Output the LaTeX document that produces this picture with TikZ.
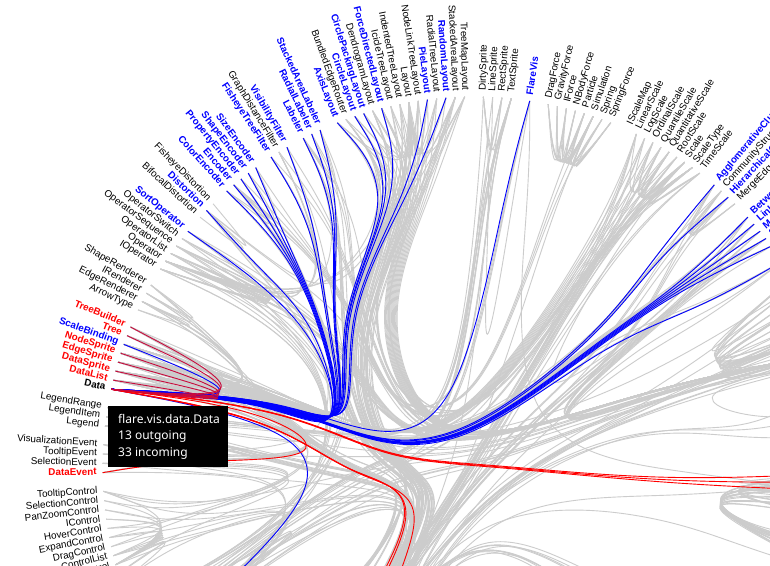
\documentclass[tikz,border=0pt]{standalone}
\usepackage{fontspec}
\newfontfamily\lblfont{Liberation Sans}
\newfontfamily\tipfont{Noto Sans}
\definecolor{cnone}{RGB}{204,204,204}
\definecolor{cin}{RGB}{0,0,255}
\definecolor{cout}{RGB}{255,0,0}
\definecolor{cboth}{RGB}{200,10,60}
% package positions: angle unit (1.44 deg) / radius
\def\PR{0/0}
\def\Pdi{2.5/282.75}\def\Pfx{6/282.75}\def\Pph{11.5/282.75}\def\Psc{21.5/282.75}
\def\Pan{34.5/188.5}\def\Pcl{29.5/282.75}\def\Pgr{35/282.75}\def\Poz{39/282.75}
\def\Pam{46.92/188.5}\def\Pip{57/282.75}\def\Pda{66.43/188.5}\def\Pcv{72/282.75}
\def\Pqu{90.57/188.5}\def\Pme{120.5/282.75}
\def\Put{147.68/188.5}\def\Php{155.5/282.75}\def\Pma{159/282.75}\def\Ppa{163.5/282.75}
\def\Pvi{188.51/94.25}\def\Pax{171/282.75}\def\Pct{180/282.75}\def\Pev{188.5/282.75}
\def\Plg{193/282.75}\def\Pvd{200.28/188.5}\def\Prd{206.5/282.75}\def\Por{219.82/188.5}
\def\Pds{218/282.75}\def\Pen{223/282.75}\def\Pfi{228/282.75}\def\Plb{232/282.75}\def\Ply{242/282.75}
\newcount\bi \newcount\bn \newcount\bj \newcount\bk
\def\PX#1{\csname px\number#1\endcsname}
\def\PY#1{\csname py\number#1\endcsname}
\def\QX#1{\csname qx\number#1\endcsname}
\def\QY#1{\csname qy\number#1\endcsname}
\def\strloop{%
  \ifnum\bi>\bn\else
    \edef\expr{0.85*(\PX{\bi})+0.15*((\PX{0})+((\PX{\bn})-(\PX{0}))*\the\bi/\the\bn)}%
    \pgfmathsetmacro\tmpx{\expr}%
    \edef\expr{0.85*(\PY{\bi})+0.15*((\PY{0})+((\PY{\bn})-(\PY{0}))*\the\bi/\the\bn)}%
    \pgfmathsetmacro\tmpy{\expr}%
    \expandafter\xdef\csname qx\the\bi\endcsname{\tmpx}%
    \expandafter\xdef\csname qy\the\bi\endcsname{\tmpy}%
    \advance\bi by 1\relax
    \expandafter\strloop
  \fi}
\def\seg#1#2#3{%
  \edef\sA{\QX{#1}}\edef\sB{\QX{#2}}\edef\sC{\QX{#3}}%
  \edef\tA{\QY{#1}}\edef\tB{\QY{#2}}\edef\tC{\QY{#3}}%
  \pgfmathsetmacro\cax{(2*(\sA)+(\sB))/3}%
  \pgfmathsetmacro\cay{(2*(\tA)+(\tB))/3}%
  \pgfmathsetmacro\cbx{((\sA)+2*(\sB))/3}%
  \pgfmathsetmacro\cby{((\tA)+2*(\tB))/3}%
  \pgfmathsetmacro\cex{((\sA)+4*(\sB)+(\sC))/6}%
  \pgfmathsetmacro\cey{((\tA)+4*(\tB)+(\tC))/6}%
  \xdef\bpath{\bpath .. controls (\cax,\cay) and (\cbx,\cby) .. (\cex,\cey)}}
\def\segloop{%
  \ifnum\bi>\bn\else
    \bj=\bi \advance\bj by -2\relax
    \bk=\bi \advance\bk by -1\relax
    \seg{\bj}{\bk}{\bi}%
    \advance\bi by 1\relax
    \expandafter\segloop
  \fi}
\def\bund#1{%
  \global\bn=0\relax
  \foreach \ang/\rad in \rl {%
    \pgfmathsetmacro\tmpx{\rad*sin(\ang*1.44)}%
    \pgfmathsetmacro\tmpy{\rad*cos(\ang*1.44)}%
    \expandafter\xdef\csname px\the\bn\endcsname{\tmpx}%
    \expandafter\xdef\csname py\the\bn\endcsname{\tmpy}%
    \global\advance\bn by 1\relax}%
  \global\advance\bn by -1\relax
  \bi=0\relax \strloop
  \edef\sA{\QX{0}}\edef\sB{\QX{1}}\edef\tA{\QY{0}}\edef\tB{\QY{1}}%
  \pgfmathsetmacro\cex{(5*(\sA)+(\sB))/6}%
  \pgfmathsetmacro\cey{(5*(\tA)+(\tB))/6}%
  \xdef\bpath{(\sA,\tA) -- (\cex,\cey)}%
  \bi=2\relax \segloop
  \bj=\bn \advance\bj by -1\relax
  \seg{\bj}{\bn}{\bn}%
  \xdef\bpath{\bpath -- (\QX{\bn},\QY{\bn})}%
  \edef\tmp{\noexpand\draw[#1] \bpath;}\tmp}
\def\EE#1#2#3#4{\xdef\rl{#2/377}\foreach \pk in {#3}{\xdef\rl{\rl,\csname P\pk\endcsname}}\xdef\rl{\rl,#4/377}\bund{#1}}
\def\EG{\EE{lknone}}\def\EB{\EE{lkin}}\def\ER{\EE{lkout}}\def\EM{\EE{lkboth}}
\def\lab#1#2#3{%
  \pgfmathsetmacro\th{#2*1.44}%
  \ifnum#2<125
    \node[lbl,#1,anchor=mid west,rotate=90-\th] (n#2) at ({383*sin(\th)},{383*cos(\th)}) {#3};
  \else
    \node[lbl,#1,anchor=mid east,rotate=270-\th] (n#2) at ({383*sin(\th)},{383*cos(\th)}) {#3};
  \fi}
\begin{document}
\begin{tikzpicture}[x=0.985pt,y=0.985pt,
  lknone/.style={draw=cnone,line width=0.9pt},
  lkin/.style={draw=cin,line width=0.9pt},
  lkout/.style={draw=cout,line width=0.9pt},
  lkboth/.style={draw=cboth,line width=0.9pt},
  lbl/.style={inner sep=0pt,text=black,font=\lblfont\fontsize{9.85}{11}\selectfont},
  lin/.style={text=cin,font=\lblfont\bfseries\fontsize{9.85}{11}\selectfont},
  lout/.style={text=cout,font=\lblfont\bfseries\fontsize{9.85}{11}\selectfont},
  lself/.style={text=black,font=\lblfont\bfseries\fontsize{9.85}{11}\selectfont}]
\useasboundingbox[fill=white] (-474pt,468pt) rectangle (296pt,-97pt);
% physics
\EG{8}{ph}{13}\EG{8}{ph}{12}\EG{8}{ph}{10}\EG{9}{ph}{13}\EG{9}{ph}{12}\EG{9}{ph}{10}
\EG{10}{ph}{13}\EG{11}{ph}{13}\EG{11}{ph}{12}\EG{11}{ph}{10}
\EG{13}{ph,R,ut}{138}\EG{13}{ph}{8}\EG{13}{ph}{9}\EG{13}{ph}{11}\EG{13}{ph}{12}\EG{13}{ph}{14}\EG{13}{ph}{15}
\EG{14}{ph}{12}\EG{15}{ph}{13}\EG{15}{ph}{12}\EG{15}{ph}{14}\EG{15}{ph}{10}
% display, flex
\EG{2}{di}{1}\EG{3}{di}{1}\EG{3}{di,R,ut}{139}\EG{4}{di}{1}
\EG{6}{fx,R,di}{1}\EG{6}{fx,R,da}{65}\EG{6}{fx,R,vi}{167}\EG{6}{fx,R,vi,ax}{173}\EG{6}{fx,R,vi,ax}{169}
% scale
\EG{18}{sc}{22}\EG{18}{sc,R,ut}{147}\EG{18}{sc,R,ut}{153}
\EG{19}{sc}{22}\EG{19}{sc,R,ut}{147}\EG{19}{sc,R,ut}{153}
\EG{20}{sc}{25}\EG{20}{sc}{24}\EG{20}{sc,R,ut}{138}\EG{20}{sc,R,ut}{149}
\EG{21}{sc,R,ut}{147}\EG{21}{sc,R,ut}{153}\EG{21}{sc}{24}\EG{21}{sc}{25}
\EG{22}{sc,R,ut}{147}\EG{22}{sc,R,ut}{153}\EG{22}{sc}{24}\EG{22}{sc}{25}
\EG{23}{sc}{22}\EG{23}{sc,R,ut}{147}\EG{23}{sc,R,ut}{153}
\EG{24}{sc}{25}\EG{24}{sc,R,ut}{153}
\EG{26}{sc}{24}\EG{26}{sc}{25}\EG{26}{sc,R,ut}{140}\EG{26}{sc,R,ut}{147}
% analytics
\EG{28}{cl,an,R,am}{50}\EG{28}{cl,an,R,vi,vd}{197}\EG{28}{cl,an,R,ut,ma}{159}\EG{28}{cl}{31}\EG{28}{cl}{30}
\EG{29}{cl}{30}\EG{29}{cl,an,R,am}{50}\EG{29}{cl,an,R,vi,vd}{197}\EG{29}{cl}{31}\EG{29}{cl,an,R,ut,ma}{159}
\EG{30}{cl,an,R,vi,vd}{199}\EG{30}{cl,an,R,vi,vd}{200}\EG{30}{cl,an,R,vi,vd}{197}\EG{30}{cl,an,R,vi,vd}{202}
\EG{30}{cl}{31}\EG{30}{cl,an,R,am}{50}\EG{30}{cl,an,R,vi,or}{211}\EG{30}{cl,an,R,ut}{149}
\EG{33}{gr,an,R,am}{50}\EG{33}{gr,an,R,vi,vd}{200}\EG{33}{gr,an,R,vi,vd}{197}\EG{33}{gr,an,R,ut,hp}{155}\EG{33}{gr,an,R,ut,hp}{156}\EG{33}{gr,an,R,vi,or}{211}
\EG{34}{gr,an,R,am}{50}\EG{34}{gr,an,R,vi,vd}{200}\EG{34}{gr,an,R,vi,vd}{199}\EG{34}{gr}{36}\EG{34}{gr,an,R,vi,or}{211}\EG{34}{gr,an,R,ut}{149}
\EG{35}{gr,an,R,am}{50}\EG{35}{gr,an,R,vi,vd}{199}\EG{35}{gr,an,R,vi,vd}{200}\EG{35}{gr,an,R,vi,or}{211}\EG{35}{gr,an,R,ut}{149}
\EG{36}{gr,an,R,vi,vd}{199}\EG{36}{gr,an,R,vi,vd}{200}\EG{36}{gr,an,R,am}{50}\EG{36}{gr,an,R,vi,or}{211}\EG{36}{gr,an,R,ut,hp}{156}\EG{36}{gr,an,R,ut,hp}{155}\EG{36}{gr,an,R,ut}{149}
\EG{37}{gr,an,R,am}{50}\EG{37}{gr,an,R,vi,vd}{200}\EG{37}{gr,an,R,vi,or}{211}\EG{37}{gr,an,R,vi,vd}{203}
\EG{39}{oz,an,R,am}{50}\EG{39}{oz,an,R,ut}{138}\EG{39}{oz,an,R,vi,vd}{198}\EG{39}{oz,an,R,sc}{24}\EG{39}{oz,an,R,vi,or}{211}
% animate
\EG{42}{am,R,ut}{147}\EG{42}{am}{48}\EG{42}{am}{47}\EG{43}{am}{46}
\EG{44}{am}{41}\EG{44}{am}{48}\EG{44}{am,R,ut}{138}\EG{45}{am}{48}
\EG{47}{am}{41}\EG{47}{am,R,ut}{147}\EG{47}{am}{48}\EG{47}{am,R,ut}{138}
\EG{48}{am}{50}\EG{48}{am}{49}\EG{48}{am}{46}\EG{48}{am}{45}\EG{48}{am}{44}\EG{48}{am}{41}\EG{48}{am}{47}\EG{48}{am}{43}\EG{48}{am,R,ut}{147}\EG{48}{am}{51}
\EG{50}{am,R,ut}{146}\EG{50}{am}{44}\EG{50}{am}{41}\EG{50}{am}{47}\EG{50}{am}{51}\EG{50}{am,R,ut}{149}
\EG{51}{am,ip}{56}\EG{51}{am,R,ut}{149}
\EG{53}{ip,am,R,ut}{138}
\EG{56}{ip}{53}\EG{56}{ip}{54}\EG{56}{ip}{55}\EG{56}{ip}{57}\EG{56}{ip}{58}\EG{56}{ip}{59}\EG{56}{ip}{60}\EG{56}{ip}{61}\EG{56}{ip,am,R,ut}{149}\EG{59}{ip,am,R,ut}{149}
% data
\EG{63}{da}{68}\EG{64}{da}{63}\EG{64}{da,R,ut}{138}\EG{64}{da}{68}\EG{65}{da}{67}\EG{65}{da}{64}
\EG{66}{da,cv}{73}\EG{66}{da,cv}{70}\EG{66}{da}{65}\EG{67}{da}{64}\EG{68}{da}{63}
\EG{70}{cv}{73}\EG{70}{cv}{72}\EG{70}{cv}{74}\EG{70}{cv}{71}
\EG{71}{cv,da}{65}\EG{71}{cv,da}{68}\EG{71}{cv,da}{67}\EG{71}{cv,da}{64}\EG{71}{cv}{73}
\EG{72}{cv,da}{64}\EG{72}{cv,da}{65}\EG{72}{cv,da}{67}\EG{72}{cv,da}{63}\EG{72}{cv,da}{68}\EG{72}{cv}{73}
\EG{73}{cv,da}{65}\EG{73}{cv,da}{64}
\EG{74}{cv,da,R,ut}{149}\EG{74}{cv,da}{65}\EG{74}{cv,da}{63}\EG{74}{cv,da}{64}\EG{74}{cv,da}{67}\EG{74}{cv}{73}
% query
\EG{76}{qu}{86}\EG{77}{qu}{82}\EG{78}{qu}{80}\EG{79}{qu}{76}\EG{80}{qu}{86}\EG{81}{qu}{80}
\EG{82}{qu}{86}\EG{83}{qu}{76}\EG{84}{qu}{88}\EG{85}{qu}{76}\EG{86}{qu}{101}\EG{86}{qu}{91}
\EG{87}{qu}{86}\EG{88}{qu}{82}\EG{89}{qu}{80}\EG{90}{qu}{86}\EG{91}{qu}{86}\EG{92}{qu}{80}
\EG{93}{qu}{76}\EG{94}{qu}{76}\EG{95}{qu}{86}\EG{96}{qu}{82}\EG{97}{qu}{86}\EG{97}{qu}{101}
\EG{98}{qu}{77}\EG{99}{qu}{88}\EG{100}{qu}{76}\EG{101}{qu}{86}\EG{102}{qu}{76}\EG{103}{qu}{82}
\EG{81}{qu,R,ut}{149}\EG{84}{qu,R,ut}{140}\EG{86}{qu,R,ut}{149}\EG{87}{qu,R,ut}{149}
\EG{97}{qu,R,ut}{142}\EG{97}{qu,R,ut}{151}\EG{97}{qu,R,ut}{149}\EG{99}{qu,R,ut}{153}\EG{102}{qu,R,ut}{152}
\EG{105}{me,qu}{91}\EG{106}{me,qu}{78}\EG{107}{me,qu}{77}\EG{108}{me,qu}{79}\EG{109}{me,qu}{83}
\EG{110}{me,qu}{85}\EG{111}{me,qu}{78}\EG{112}{me,qu}{81}\EG{113}{me,qu}{88}\EG{114}{me,qu}{81}
\EG{116}{me,qu}{89}\EG{117}{me,qu}{90}\EG{118}{me,qu}{81}\EG{120}{me,qu}{93}\EG{121}{me,qu}{94}
\EG{122}{me,qu}{78}\EG{125}{me,qu}{95}\EG{126}{me,qu}{96}\EG{127}{me,qu}{97}\EG{128}{me,qu}{98}
\EG{129}{me,qu}{97}\EG{130}{me,qu}{102}\EG{132}{me,qu}{100}\EG{134}{me,qu}{102}\EG{136}{me,qu}{103}
% util
\EG{140}{ut}{147}\EG{141}{ut}{144}\EG{141}{ut}{149}\EG{141}{ut}{142}\EG{142}{ut}{145}\EG{149}{ut}{146}
\EG{151}{ut}{149}\EG{151}{ut}{138}\EG{152}{ut}{138}\EG{153}{ut}{140}\EG{155}{hp}{156}\EG{158}{ma}{159}
\EG{160}{ma}{159}\EG{162}{pa}{163}\EG{162}{pa,ut}{139}\EG{164}{pa}{163}\EG{164}{pa,ut}{150}\EG{165}{pa}{163}
% vis
\EG{167}{vi,R,am}{50}\EG{167}{vi,vd}{198}\EG{167}{vi,or}{210}\EG{167}{vi,ax}{169}\EG{167}{vi,ax}{173}
\EG{167}{vi,ev}{187}\EG{167}{vi,ev}{190}\EG{167}{vi,or}{212}\EG{167}{vi,ct}{178}\EG{167}{vi,R,ut}{141}\EG{167}{vi,R,ut}{149}
\EG{169}{ax,vi,R,am}{50}\EG{169}{ax,vi}{167}
\EG{170}{ax,vi,R,am}{50}\EG{170}{ax,vi,R,sc}{24}\EG{170}{ax,vi,R,sc}{25}\EG{170}{ax,vi,R,sc}{18}\EG{170}{ax,vi,R,ut}{138}
\EG{170}{ax,vi,R,ut}{152}\EG{170}{ax,vi,R,ut}{153}\EG{170}{ax}{171}\EG{170}{ax}{172}\EG{170}{ax,vi,R,di}{4}
\EG{171}{ax,vi,R,di}{2}\EG{172}{ax,vi,R,di}{4}
\EG{173}{ax,vi,R,am}{50}\EG{173}{ax,vi,R,di}{3}\EG{173}{ax}{170}\EG{173}{ax,vi,R,di}{4}\EG{173}{ax}{169}\EG{173}{ax}{171}\EG{173}{ax}{172}
% controls
\EG{175}{ct}{177}\EG{175}{ct,vi}{167}\EG{176}{ct,vi,ev}{188}\EG{176}{ct}{177}
\EG{177}{ct}{182}\EG{177}{ct,vi,R,ut}{142}
\EG{178}{ct}{182}\EG{178}{ct,vi,R,ut}{138}\EG{178}{ct}{177}
\EG{179}{ct}{177}\EG{179}{ct,vi,vd}{198}
\EG{180}{ct,vi,vd}{200}\EG{180}{ct}{177}\EG{180}{ct,vi}{167}
\EG{181}{ct,vi,ev}{188}\EG{181}{ct}{177}
\EG{183}{ct,vi,R,ut}{141}\EG{183}{ct}{177}
\EG{184}{ct,vi,ev}{188}\EG{184}{ct}{177}
\EG{185}{ct,vi,ev}{189}\EG{185}{ct,vi,R,am}{51}\EG{185}{ct}{177}\EG{185}{ct,vi,R,ut}{141}
% events
\EG{187}{ev,vi,vd}{199}\EG{187}{ev,vi,vd}{200}\EG{187}{ev,vi,vd}{197}\EG{187}{ev,vi,vd}{198}
\EG{188}{ev,vi,R,ut}{141}\EG{189}{ev,vi,vd}{199}\EG{189}{ev,vi,vd}{200}\EG{190}{ev,vi,R,am}{50}
% legend
\EG{192}{lg,vi,R,am}{50}\EG{192}{lg,vi,R,sc}{25}\EG{192}{lg,vi,vd}{201}\EG{192}{lg,vi,R,di}{4}\EG{192}{lg}{193}\EG{192}{lg}{194}
\EG{192}{lg,vi,R,ut}{141}\EG{192}{lg,vi,R,ut}{148}\EG{192}{lg,vi,R,ut,pa}{162}\EG{192}{lg,vi,R,ut,pa}{163}
\EG{192}{lg,vi,R,ut,pa}{164}\EG{192}{lg,vi,R,ut,pa}{165}\EG{192}{lg,vi,R,ut}{150}
\EG{193}{lg,vi,R,ut}{141}\EG{193}{lg,vi,R,di}{3}\EG{193}{lg,vi,R,di}{4}
\EG{194}{lg,vi,R,ut}{139}\EG{194}{lg,vi,R,ut,pa}{162}\EG{194}{lg,vi,R,di}{3}\EG{194}{lg,vi,R,di}{4}
\EG{194}{lg,vi,R,sc}{25}\EG{194}{lg,vi,R,ut}{148}\EG{194}{lg,vi,R,ut}{152}
% vis.data
\EG{197}{vd,vi,R,am}{50}\EG{197}{vd,vi,R,ut}{149}\EG{197}{vd,vi,R,ut}{151}\EG{197}{vd,vi,R,ut}{142}\EG{197}{vd,vi,ev}{187}
\EG{197}{vd}{198}\EG{197}{vd,vi,R,ut}{152}\EG{197}{vd,vi,R,ut}{138}\EG{197}{vd}{200}\EG{197}{vd}{199}
\EG{198}{vd,vi,R,di}{1}\EG{198}{vd,rd}{207}\EG{198}{vd,rd}{208}\EG{198}{vd,vi,R,ut}{142}
\EG{199}{vd,rd}{206}\EG{199}{vd}{198}\EG{199}{vd}{200}\EG{199}{vd,rd}{205}\EG{199}{vd,vi,R,ut}{138}
\EG{200}{vd,vi,R,am}{50}\EG{200}{vd,vi,R,ut}{138}\EG{200}{vd}{198}\EG{200}{vd}{202}\EG{200}{vd,vi,R,ut}{151}\EG{200}{vd,vi,R,ut}{142}\EG{200}{vd,vi,R,ut}{144}
\EG{201}{vd,vi,R,sc}{24}\EG{201}{vd,vi,R,sc}{25}\EG{201}{vd,vi,R,sc}{18}\EG{201}{vd,vi,R,sc}{19}\EG{201}{vd,vi,R,sc}{20}
\EG{201}{vd,vi,R,sc}{23}\EG{201}{vd,vi,R,sc}{21}\EG{201}{vd,vi,R,sc}{26}\EG{201}{vd,vi,R,sc}{22}\EG{201}{vd,vi,R,ut}{152}
\EG{202}{vd}{199}\EG{202}{vd,vi,R,ut}{138}
\EG{203}{vd}{202}\EG{203}{vd,vi,R,ut,hp}{155}\EG{203}{vd,vi,R,ut,hp}{156}\EG{203}{vd}{199}\EG{203}{vd}{200}\EG{203}{vd,vi,R,ut}{149}
% render
\EG{206}{rd,vd}{199}\EG{206}{rd,vd}{200}\EG{206}{rd}{205}\EG{206}{rd,vd,vi,R,ut}{143}\EG{206}{rd,vd,vi,R,ut}{150}\EG{206}{rd,vd}{198}\EG{206}{rd}{207}
\EG{207}{rd,vd}{198}\EG{208}{rd,vd,vi,R,ut}{150}\EG{208}{rd,vd}{198}\EG{208}{rd}{207}
% operator
\EG{210}{or,vi}{167}\EG{210}{or,vi,R,am}{50}
\EG{211}{or}{210}\EG{211}{or,vi,R,am}{50}\EG{211}{or,vi,R,ut}{149}\EG{211}{or,vi}{167}
\EG{212}{or,vi,R,ut}{138}\EG{212}{or}{210}\EG{212}{or}{211}\EG{212}{or,vi,R,am}{50}
\EG{213}{or}{210}\EG{213}{or}{212}\EG{213}{or}{211}\EG{213}{or,vi,R,am}{42}\EG{213}{or,vi,R,am}{50}\EG{213}{or,vi,R,ut}{138}\EG{213}{or,vi}{167}
\EG{214}{or}{210}\EG{214}{or}{212}\EG{214}{or,vi,R,am}{50}\EG{214}{or,vi}{167}
\EG{215}{or,vi,R,ut}{138}\EG{215}{or,vi,R,am}{50}\EG{215}{or}{211}\EG{215}{or,vi,R,ut}{151}
% distortion
\EG{217}{ds}{218}\EG{219}{ds}{218}
\EG{218}{ds,or,vi,R,am}{50}\EG{218}{ds,or,vi,vd}{198}\EG{218}{ds,or,vi,ev}{190}\EG{218}{ds,or,vi,ax}{170}\EG{218}{ds,or,ly}{243}\EG{218}{ds,or,vi,ax}{173}
% encoder
\EG{221}{en,or,vi,R,ut,pa}{162}\EG{221}{en,or,vi,R,ut,pa}{163}\EG{221}{en,or,vi,R,sc}{25}\EG{221}{en}{222}
\EG{222}{en,or,vi,R,am}{50}\EG{222}{en,or,vi,R,sc}{24}\EG{222}{en,or}{211}\EG{222}{en,or,vi,vd}{201}\EG{222}{en,or,vi,R,ut}{149}\EG{222}{en,or,vi,R,ut}{142}
\EG{223}{en,or,vi,R,am}{50}\EG{223}{en,or}{211}\EG{223}{en,or,vi,R,ut}{142}\EG{223}{en,or,vi,R,ut}{149}
\EG{224}{en,or,vi,R,ut,pa}{163}\EG{224}{en,or,vi,R,ut,pa}{164}\EG{224}{en,or,vi,R,sc}{25}\EG{224}{en}{222}
\EG{225}{en,or,vi,R,ut,pa}{163}\EG{225}{en,or,vi,R,ut,pa}{165}\EG{225}{en,or,vi,R,sc}{25}\EG{225}{en}{222}
% filter
\EG{227}{fi,or,vi,vd}{200}\EG{227}{fi,or,vi,R,am}{50}\EG{227}{fi,or,vi,vd}{199}\EG{227}{fi,or}{211}\EG{227}{fi,or,vi,vd}{198}\EG{227}{fi,or,vi,vd}{202}
\EG{228}{fi,or,vi,vd}{200}\EG{228}{fi,or,vi,vd}{199}\EG{228}{fi,or,vi,vd}{198}\EG{228}{fi,or,vi,R,am}{50}\EG{228}{fi,or}{211}
\EG{229}{fi,or}{211}\EG{229}{fi,or,vi,R,am}{50}\EG{229}{fi,or,vi,vd}{198}\EG{229}{fi,or,vi,R,ut}{142}
% label
\EG{231}{lb,or,vi,R,di}{4}\EG{231}{lb,or,vi,vd}{198}\EG{231}{lb,or,vi,R,ut}{142}\EG{231}{lb,or,vi,R,ut}{150}\EG{231}{lb,or,vi,R,am}{50}
\EG{231}{lb,or}{211}\EG{231}{lb,or,vi,R,ut}{144}\EG{231}{lb,or,vi,R,ut}{149}
\EG{232}{lb}{231}\EG{232}{lb,or,vi,vd}{198}\EG{232}{lb,or,vi,R,ut}{150}\EG{232}{lb,or,vi,R,di}{4}
\EG{233}{lb}{231}\EG{233}{lb,or,vi,vd}{198}\EG{233}{lb,or,vi,R,di}{4}\EG{233}{lb,or,vi,vd}{200}\EG{233}{lb,or,vi,R,ut}{138}
% layout
\EG{235}{ly,or,vi,R,sc}{25}\EG{235}{ly,or,vi,R,ut}{149}\EG{235}{ly,or,vi,vd}{198}\EG{235}{ly,or,vi,ax}{173}\EG{235}{ly}{243}\EG{235}{ly,or,vi,R,am}{50}\EG{235}{ly,or,vi,vd}{201}
\EG{236}{ly,or,vi,vd}{199}\EG{236}{ly,or,vi,vd}{200}\EG{236}{ly,or,vi,vd}{198}\EG{236}{ly,or,vi,R,ut}{138}\EG{236}{ly,or,vi,R,ut}{150}\EG{236}{ly,or}{211}\EG{236}{ly,or,vi,R,am}{50}
\EG{237}{ly,or,vi,vd}{200}\EG{237}{ly,or,vi,vd}{201}\EG{237}{ly,or,vi,R,ut}{149}\EG{237}{ly}{243}\EG{237}{ly,or,vi,R,ut}{138}\EG{237}{ly,or,vi,R,am}{50}
\EG{238}{ly}{243}\EG{238}{ly,or,vi,R,ut}{150}\EG{238}{ly,or,vi,R,ut}{151}\EG{238}{ly,or,vi,vd}{200}\EG{238}{ly,or,vi,R,am}{50}
\EG{239}{ly,or,vi,vd}{200}\EG{239}{ly,or,vi,vd}{199}\EG{239}{ly,or,vi,R,ut}{148}\EG{239}{ly}{243}\EG{239}{ly,or,vi,R,ut}{138}\EG{239}{ly,or,vi,R,am}{50}
\EG{240}{ly,or,vi,R,ph}{13}\EG{240}{ly,or,vi,R,ph}{12}\EG{240}{ly,or,vi,R,ph}{14}\EG{240}{ly,or,vi,vd}{200}\EG{240}{ly,or,vi,vd}{199}\EG{240}{ly,or,vi,vd}{198}\EG{240}{ly}{243}\EG{240}{ly,or,vi,R,am}{50}
\EG{241}{ly}{243}\EG{241}{ly,or,vi,vd}{200}\EG{241}{ly,or,vi,R,ut}{148}\EG{241}{ly,or,vi,R,am}{50}
\EG{242}{ly}{243}\EG{242}{ly,or,vi,vd}{200}\EG{242}{ly,or,vi,vd}{199}\EG{242}{ly,or,vi,R,ut}{138}\EG{242}{ly,or,vi,R,am}{50}
\EG{243}{ly,or,vi,vd}{200}\EG{243}{ly,or,vi,vd}{199}\EG{243}{ly,or,vi,vd}{198}\EG{243}{ly,or}{211}\EG{243}{ly,or,vi}{167}\EG{243}{ly,or,vi,ax}{169}
\EG{243}{ly,or,vi,ax}{173}\EG{243}{ly,or,vi,R,am}{50}\EG{243}{ly,or,vi,R,ut}{138}\EG{243}{ly,or,vi,vd}{197}\EG{243}{ly,or,vi,R,ut}{149}
\EG{244}{ly}{243}\EG{244}{ly,or,vi,R,ut}{148}\EG{244}{ly,or,vi,vd}{200}\EG{244}{ly,or,vi,vd}{199}\EG{244}{ly,or,vi,R,ut}{138}\EG{244}{ly,or,vi,R,am}{50}
\EG{245}{ly,or,vi,vd}{198}\EG{245}{ly}{243}\EG{245}{ly,or,vi,R,ut}{143}\EG{245}{ly,or,vi,R,am}{50}\EG{245}{ly,or,vi,R,ut}{150}
\EG{246}{ly,or,vi,vd}{200}\EG{246}{ly,or,vi,R,ut}{138}\EG{246}{ly}{243}\EG{246}{ly,or,vi,R,am}{50}\EG{246}{ly,or,vi,R,ut}{143}
\EG{247}{ly,or,vi,vd}{198}\EG{247}{ly}{243}\EG{247}{ly,or,vi,R,am}{50}
\EG{248}{ly,or,vi,R,sc}{24}\EG{248}{ly,or,vi,R,sc}{25}\EG{248}{ly,or,vi,R,ut}{138}\EG{248}{ly,or,vi,R,ut}{147}\EG{248}{ly,or,vi,R,ut}{148}
\EG{248}{ly,or,vi,R,ut}{152}\EG{248}{ly}{243}\EG{248}{ly,or,vi,vd}{200}\EG{248}{ly,or,vi,R,am}{50}
\EG{249}{ly}{243}\EG{249}{ly,or,vi,vd}{200}\EG{249}{ly,or,vi,R,ut}{149}\EG{249}{ly,or,vi,R,ut}{138}\EG{249}{ly,or,vi,R,am}{50}
% incoming (blue)
\EB{196}{vd}{201}\EB{196}{vd,vi,or}{215}\EB{196}{vd,vi,or,ds}{218}
\EB{196}{vd,vi,or,en}{221}\EB{196}{vd,vi,or,en}{222}\EB{196}{vd,vi,or,en}{223}\EB{196}{vd,vi,or,en}{224}\EB{196}{vd,vi,or,en}{225}
\EB{196}{vd,vi,or,fi}{227}\EB{196}{vd,vi,or,fi}{229}
\EB{196}{vd,vi,or,lb}{231}\EB{196}{vd,vi,or,lb}{232}\EB{196}{vd,vi,or,lb}{233}
\EB{196}{vd,vi,or,ly}{235}\EB{196}{vd,vi,or,ly}{237}\EB{196}{vd,vi,or,ly}{238}\EB{196}{vd,vi,or,ly}{240}\EB{196}{vd,vi,or,ly}{245}\EB{196}{vd,vi,or,ly}{247}
\EB{196}{vd,vi}{167}\EB{196}{vd,vi,R,fx}{6}
\EB{196}{vd,vi,R,an,cl}{28}\EB{196}{vd,vi,R,an,cl}{30}
\EB{196}{vd,vi,R,an,gr}{33}\EB{196}{vd,vi,R,an,gr}{34}\EB{196}{vd,vi,R,an,gr}{35}\EB{196}{vd,vi,R,an,gr}{36}\EB{196}{vd,vi,R,an,gr}{37}
\EB{196}{vd,vi,R,an,oz}{39}
% outgoing (red)
\ER{196}{vd,vi,ev}{187}\ER{196}{vd,vi,R,ut}{138}\ER{196}{vd,vi,R,ut}{151}\ER{196}{vd,vi,R,ut}{149}
\ER{196}{vd,vi,R,da}{63}\ER{196}{vd,vi,R,da}{64}\ER{196}{vd,vi,R,da}{65}
\EM{196}{vd}{197}\EM{196}{vd}{198}\EM{196}{vd}{199}\EM{196}{vd}{200}\EM{196}{vd}{202}\EM{196}{vd}{203}
% labels, right half
\lab{}{1}{DirtySprite}\lab{}{2}{LineSprite}\lab{}{3}{RectSprite}\lab{}{4}{TextSprite}
\lab{lin}{6}{FlareVis}
\lab{}{8}{DragForce}\lab{}{9}{GravityForce}\lab{}{10}{IForce}\lab{}{11}{NBodyForce}\lab{}{12}{Particle}
\lab{}{13}{Simulation}\lab{}{14}{Spring}\lab{}{15}{SpringForce}
\lab{}{17}{IScaleMap}\lab{}{18}{LinearScale}\lab{}{19}{LogScale}\lab{}{20}{OrdinalScale}\lab{}{21}{QuantileScale}
\lab{}{22}{QuantitativeScale}\lab{}{23}{RootScale}\lab{}{24}{Scale}\lab{}{25}{ScaleType}\lab{}{26}{TimeScale}
\lab{lin}{28}{AgglomerativeCluster}\lab{}{29}{CommunityStructure}\lab{lin}{30}{HierarchicalCluster}\lab{}{31}{MergeEdge}
\lab{lin}{33}{BetweennessCentrality}\lab{lin}{34}{LinkDistance}\lab{lin}{35}{MaxFlowMinCut}\lab{lin}{36}{ShortestPaths}\lab{lin}{37}{SpanningTree}
% labels, left half
\lab{}{177}{Control}\lab{}{178}{ControlList}\lab{}{179}{DragControl}\lab{}{180}{ExpandControl}\lab{}{181}{HoverControl}
\lab{}{182}{IControl}\lab{}{183}{PanZoomControl}\lab{}{184}{SelectionControl}\lab{}{185}{TooltipControl}
\lab{lout}{187}{DataEvent}\lab{}{188}{SelectionEvent}\lab{}{189}{TooltipEvent}\lab{}{190}{VisualizationEvent}
\lab{}{192}{Legend}\lab{}{193}{LegendItem}\lab{}{194}{LegendRange}
\lab{lself}{196}{Data}\lab{lout}{197}{DataList}\lab{lout}{198}{DataSprite}\lab{lout}{199}{EdgeSprite}\lab{lout}{200}{NodeSprite}
\lab{lin}{201}{ScaleBinding}\lab{lout}{202}{Tree}\lab{lout}{203}{TreeBuilder}
\lab{}{205}{ArrowType}\lab{}{206}{EdgeRenderer}\lab{}{207}{IRenderer}\lab{}{208}{ShapeRenderer}
\lab{}{210}{IOperator}\lab{}{211}{Operator}\lab{}{212}{OperatorList}\lab{}{213}{OperatorSequence}\lab{}{214}{OperatorSwitch}\lab{lin}{215}{SortOperator}
\lab{}{217}{BifocalDistortion}\lab{lin}{218}{Distortion}\lab{}{219}{FisheyeDistortion}
\lab{lin}{221}{ColorEncoder}\lab{lin}{222}{Encoder}\lab{lin}{223}{PropertyEncoder}\lab{lin}{224}{ShapeEncoder}\lab{lin}{225}{SizeEncoder}
\lab{lin}{227}{FisheyeTreeFilter}\lab{}{228}{GraphDistanceFilter}\lab{lin}{229}{VisibilityFilter}
\lab{lin}{231}{Labeler}\lab{lin}{232}{RadialLabeler}\lab{lin}{233}{StackedAreaLabeler}
\lab{lin}{235}{AxisLayout}\lab{}{236}{BundledEdgeRouter}\lab{lin}{237}{CircleLayout}\lab{lin}{238}{CirclePackingLayout}
\lab{}{239}{DendrogramLayout}\lab{lin}{240}{ForceDirectedLayout}\lab{}{241}{IcicleTreeLayout}\lab{}{242}{IndentedTreeLayout}
\lab{}{243}{Layout}\lab{}{244}{NodeLinkTreeLayout}\lab{lin}{245}{PieLayout}\lab{}{246}{RadialTreeLayout}
\lab{lin}{247}{RandomLayout}\lab{}{248}{StackedAreaLayout}\lab{}{249}{TreeMapLayout}
% tooltip
\node[fill=black,inner sep=0pt,minimum width=120pt,minimum height=61pt,anchor=north west] (tip) at (-366pt,62pt) {};
\begin{scope}[every node/.style={anchor=base west,inner sep=0pt,text=white,font=\tipfont\fontsize{12}{14}\selectfont}]
\node (tip1) at (-356pt,44.5pt) {flare.vis.data.Data};
\node (tip2) at (-356pt,28.5pt) {13 outgoing};
\node (tip3) at (-356pt,12pt) {33 incoming};
\end{scope}
\end{tikzpicture}
\end{document}
